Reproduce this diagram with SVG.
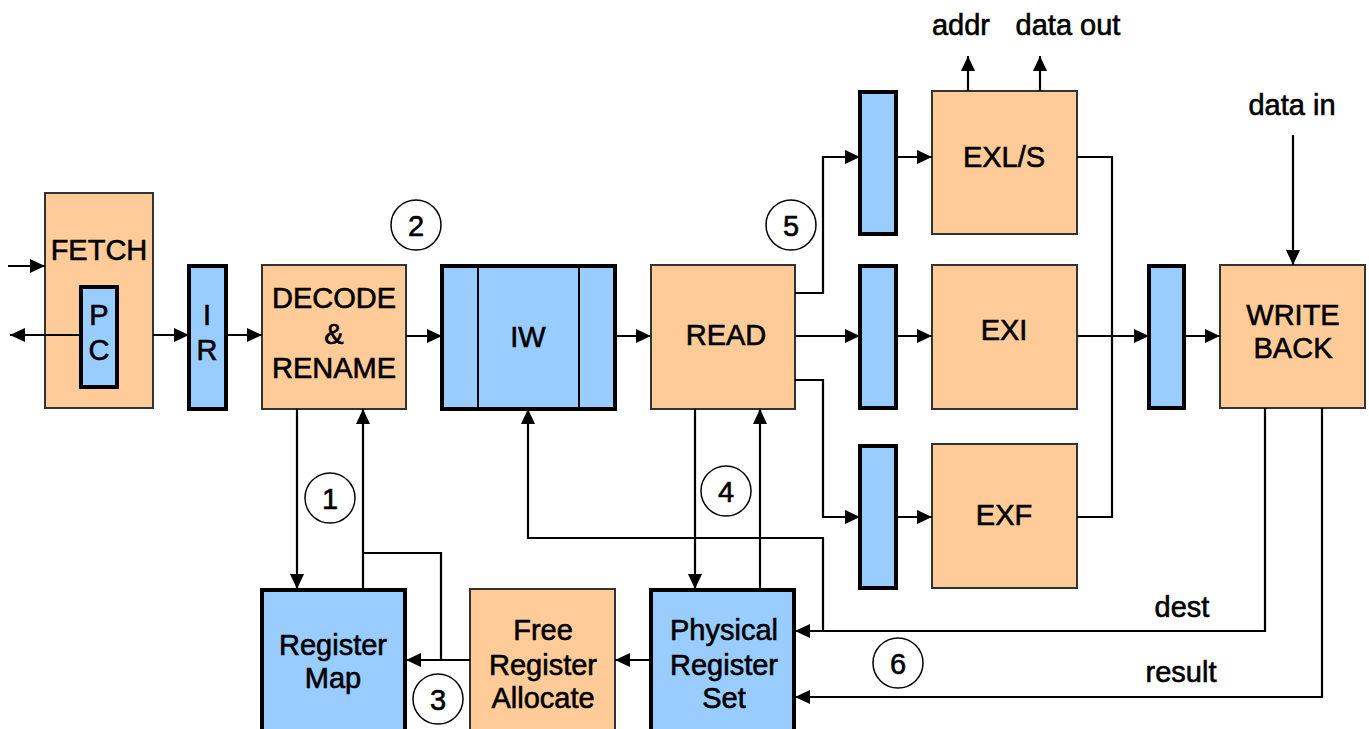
<svg xmlns="http://www.w3.org/2000/svg" width="1369" height="729" viewBox="0 0 1369 729">
<style>
.o{fill:#FFCC99;stroke:#333;stroke-width:2}
.b{fill:#99CCFF;stroke:#000;stroke-width:4}
.t{font-family:"Liberation Sans",Arial,sans-serif;font-size:29px;text-anchor:middle;fill:#000;stroke:#000;stroke-width:0.6}
.c{fill:#fff;stroke:#000;stroke-width:1.5}
.w{fill:none;stroke:#000;stroke-width:2.2}
.a{marker-end:url(#ah)}
</style>
<defs>
<marker id="ah" markerUnits="userSpaceOnUse" markerWidth="16" markerHeight="14" refX="15" refY="7" orient="auto">
<path d="M0,0 L15,7 L0,14 z" fill="#000"/>
</marker>
</defs>
<rect width="1369" height="729" fill="#fff"/>
<g id="fetch"><rect class="o" x="45" y="193" width="108" height="215"/><text class="t" x="99" y="260">FETCH</text></g>
<g id="pc"><rect class="b" x="81" y="287" width="36" height="100"/><text class="t" x="99" y="325">P</text><text class="t" x="99" y="360">C</text></g>
<g id="ir"><rect class="b" x="189" y="266" width="37" height="143"/><text class="t" x="207" y="325">I</text><text class="t" x="207" y="360">R</text></g>
<g id="decode"><rect class="o" x="262" y="265" width="144" height="144"/><text class="t" x="334" y="308">DECODE</text><text class="t" x="334" y="344">&amp;</text><text class="t" x="334" y="378">RENAME</text></g>
<g id="iw"><rect class="b" x="442" y="266" width="173" height="143"/><line x1="478" y1="266" x2="478" y2="409" stroke="#000" stroke-width="2"/><line x1="579" y1="266" x2="579" y2="409" stroke="#000" stroke-width="2"/><text class="t" x="528" y="347">IW</text></g>
<g id="read"><rect class="o" x="651" y="265" width="144" height="144"/><text class="t" x="726" y="345">READ</text></g>
<g id="r1"><rect class="b" x="860" y="92" width="36" height="142"/></g>
<g id="r2"><rect class="b" x="860" y="266" width="36" height="142"/></g>
<g id="r3"><rect class="b" x="860" y="446" width="36" height="142"/></g>
<g id="exls"><rect class="o" x="932" y="91" width="145" height="143"/><text class="t" x="1004" y="167">EXL/S</text></g>
<g id="exi"><rect class="o" x="932" y="265" width="145" height="144"/><text class="t" x="1004" y="340">EXI</text></g>
<g id="exf"><rect class="o" x="932" y="444" width="145" height="144"/><text class="t" x="1004" y="525">EXF</text></g>
<g id="r4"><rect class="b" x="1149" y="266" width="35" height="142"/></g>
<g id="wb"><rect class="o" x="1220" y="265" width="145" height="143"/><text class="t" x="1293" y="325">WRITE</text><text class="t" x="1293" y="358">BACK</text></g>
<g id="regmap"><rect class="b" x="262" y="590" width="143" height="150"/><text class="t" x="333" y="655">Register</text><text class="t" x="333" y="688">Map</text></g>
<g id="fra"><rect class="o" x="470" y="589" width="145" height="150"/><text class="t" x="543" y="640">Free</text><text class="t" x="543" y="675">Register</text><text class="t" x="543" y="708">Allocate</text></g>
<g id="prs"><rect class="b" x="651" y="590" width="143" height="150"/><text class="t" x="724" y="640">Physical</text><text class="t" x="724" y="675">Register</text><text class="t" x="724" y="708">Set</text></g>
<g id="labels">
<text class="t" x="961" y="35">addr</text>
<text class="t" x="1068" y="35">data out</text>
<text class="t" x="1292" y="115">data in</text>
<text class="t" x="1182" y="617">dest</text>
<text class="t" x="1181" y="682">result</text>
</g>
<g id="steps">
<circle class="c" cx="330" cy="498" r="25"/><text class="t" x="330" y="509">1</text>
<circle class="c" cx="416" cy="225" r="25"/><text class="t" x="416" y="236">2</text>
<circle class="c" cx="438" cy="699" r="25"/><text class="t" x="438" y="710">3</text>
<circle class="c" cx="726" cy="491" r="25"/><text class="t" x="726" y="502">4</text>
<circle class="c" cx="791" cy="225" r="25"/><text class="t" x="791" y="236">5</text>
<circle class="c" cx="898" cy="663" r="25"/><text class="t" x="898" y="674">6</text>
</g>
<g id="connectors" class="w">
<path class="a" d="M8,266 H45"/>
<path class="a" d="M81,335 H10"/>
<path class="a" d="M153,335 H189"/>
<path class="a" d="M226,335 H262"/>
<path class="a" d="M406,336 H442"/>
<path class="a" d="M615,336 H651"/>
<path class="a" d="M795,293 H823 V157 H860"/>
<path class="a" d="M896,157 H932"/>
<path class="a" d="M795,336 H860"/>
<path class="a" d="M896,336 H932"/>
<path class="a" d="M795,380 H823 V517 H860"/>
<path class="a" d="M896,517 H932"/>
<path d="M1077,157 H1112 V517 H1077"/>
<path class="a" d="M1077,336 H1149"/>
<path class="a" d="M1184,336 H1220"/>
<path class="a" d="M1293,135 V265"/>
<path class="a" d="M968,91 V56"/>
<path class="a" d="M1040,91 V56"/>
<path class="a" d="M297,409 V589"/>
<path class="a" d="M363,589 V409"/>
<path d="M363,553 H441 V660"/>
<path class="a" d="M470,660 H406"/>
<path class="a" d="M651,660 H615"/>
<path class="a" d="M695,409 V589"/>
<path class="a" d="M760,589 V409"/>
<path class="a" d="M823,631 V538 H528 V409"/>
<path class="a" d="M1265,408 V631 H795"/>
<path class="a" d="M1322,408 V697 H795"/>
</g>
</svg>
